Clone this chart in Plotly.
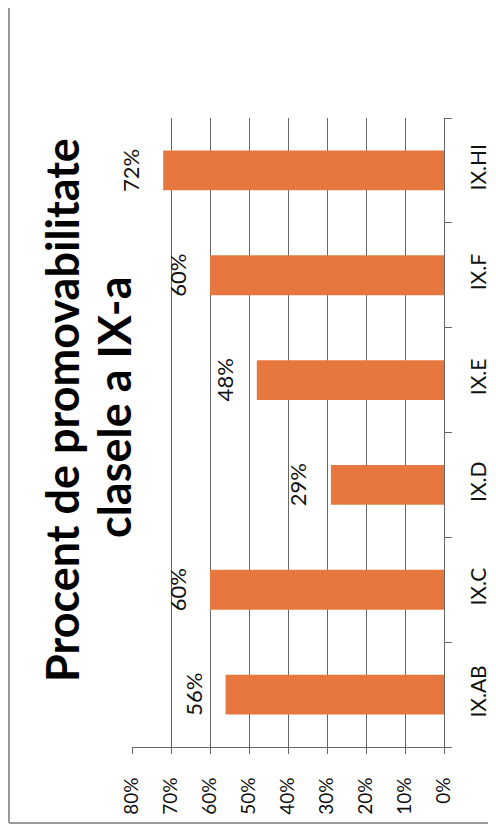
import plotly.graph_objects as go

categories = ["IX.AB", "IX.C", "IX.D", "IX.E", "IX.F", "IX.HI"]
values = [56, 60, 29, 48, 60, 72]
value_labels = ["56%", "60%", "29%", "48%", "60%", "72%"]
tick_vals = [0, 10, 20, 30, 40, 50, 60, 70, 80]
tick_text = ["0%", "10%", "20%", "30%", "40%", "50%", "60%", "70%", "80%"]
title_lines = ["Procent de promovabilitate", "clasele a IX-a"]

BAR = "#E6783F"
GRID = "#666666"
FONT = "Lato"

# the page body adds an 8px offset; work in page pixels and convert
OFF = 8
W, H = 496 - OFF, 831 - OFF
L, R, T, B = 132 - OFF, 444 - OFF, 118 - OFF, 747 - OFF
PW, PH = R - L, B - T


def px(xp):
    return (xp - OFF - L) / PW


def py(yp):
    return (B - (yp - OFF)) / PH


fig = go.Figure()
fig.add_trace(go.Bar(
    x=values, y=categories, orientation="h",
    marker=dict(color=BAR, line=dict(width=0)),
    hoverinfo="skip",
))

for v, c, t in zip(values, categories, value_labels):
    fig.add_annotation(
        x=v, y=c, xref="x", yref="y", text=t, showarrow=False,
        textangle=-90, xanchor="right", yanchor="middle", xshift=-17,
        font=dict(family=FONT, size=22, color="#111"),
    )

# title (rotated, two lines)
fig.add_annotation(
    x=px(62), y=py(410), xref="paper", yref="paper",
    text="<b>" + title_lines[0] + "</b>",
    showarrow=False, textangle=-90, xanchor="center", yanchor="middle",
    font=dict(family=FONT, size=45, color="#000"),
)
fig.add_annotation(
    x=px(114), y=py(407), xref="paper", yref="paper",
    text="<b>" + title_lines[1] + "</b>",
    showarrow=False, textangle=-90, xanchor="center", yanchor="middle",
    font=dict(family=FONT, size=45, color="#000"),
)

# page frame (scan border)
fig.add_shape(type="line", xref="paper", yref="paper",
              x0=px(9), x1=px(9), y0=py(-10), y1=py(823),
              line=dict(color="#9a9a9a", width=2))
fig.add_shape(type="line", xref="paper", yref="paper",
              x0=px(9), x1=px(520), y0=py(823), y1=py(823),
              line=dict(color="#9a9a9a", width=2))

fig.update_layout(
    width=W, height=H,
    margin=dict(l=L, r=W - R, t=T, b=H - B, autoexpand=False),
    paper_bgcolor="white", plot_bgcolor="white",
    bargap=0.62, showlegend=False,
    font=dict(family=FONT, size=20, color="#111"),
)
fig.update_xaxes(
    range=[80, 0], tickvals=tick_vals, ticktext=tick_text,
    tickangle=-90, showgrid=True, gridcolor=GRID, gridwidth=1,
    showline=True, linecolor=GRID, linewidth=1,
    ticks="outside", ticklen=6, tickcolor=GRID,
    ticklabelstandoff=16, zeroline=False, automargin=False,
    tickfont=dict(family=FONT, size=19, color="#111"),
)
fig.update_yaxes(
    side="right", tickangle=-90, showgrid=False,
    showline=True, linecolor=GRID, linewidth=1,
    ticks="outside", ticklen=7, tickcolor=GRID, tickson="boundaries",
    ticklabelstandoff=16, automargin=False,
    tickfont=dict(family=FONT, size=21, color="#111"),
)

fig.write_html("out.html")
